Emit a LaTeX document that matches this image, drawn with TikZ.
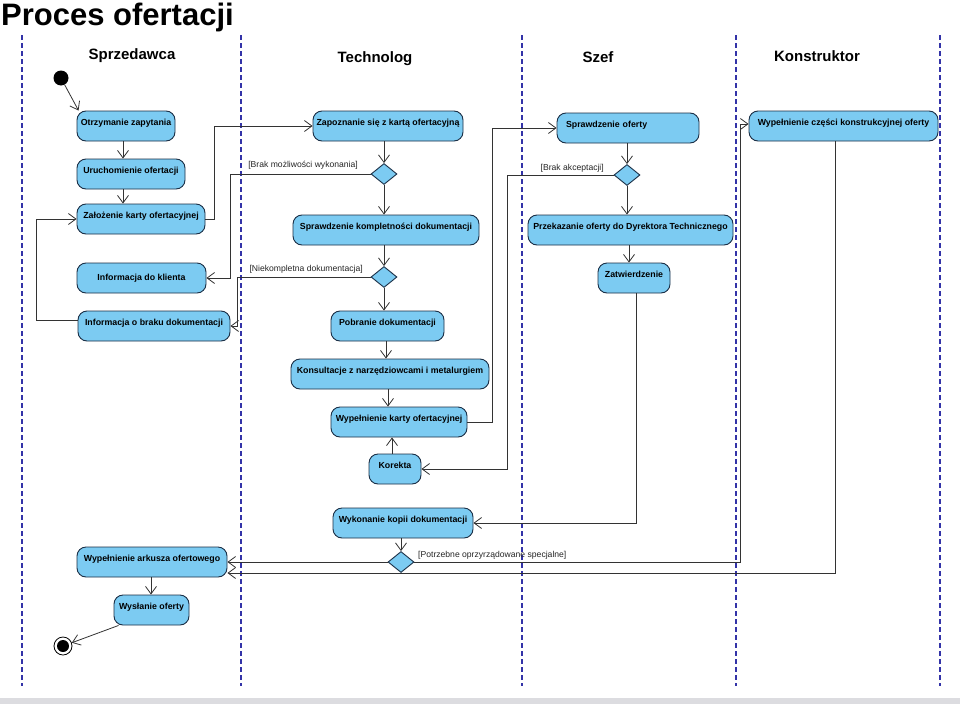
\documentclass[tikz,border=0pt]{standalone}
\usepackage{fontspec}
\setmainfont{Liberation Sans}
\usetikzlibrary{arrows.meta,shapes.geometric,calc}
\definecolor{actfill}{HTML}{7CCBF2}
\definecolor{actdraw}{HTML}{1A2E45}
\definecolor{linec}{HTML}{333333}
\definecolor{lanec}{HTML}{3333A8}
\definecolor{bandc}{HTML}{DCDCE0}
\begin{document}
\begin{tikzpicture}[x=1pt,y=-1pt,
  act/.style={draw=actdraw, fill=actfill, line width=0.9pt, rounded corners=9pt,
    minimum height=30pt, inner xsep=2pt, inner ysep=0pt,
    font=\bfseries\fontsize{8.8}{10}\selectfont, text height=6.3pt, text depth=8pt},
  dec/.style={draw=actdraw, fill=actfill, line width=0.9pt, diamond, inner sep=0pt,
    minimum width=26pt, minimum height=21pt},
  arr/.style={draw=linec, line width=0.8pt, -{Straight Barb[length=7.5pt,width=11pt]}},
  lbl/.style={font=\fontsize{8.6}{10}\selectfont, inner sep=0pt, text=black!85},
  lane/.style={draw=lanec, line width=1.3pt, dash pattern=on 5pt off 3pt},
  hdr/.style={font=\bfseries\fontsize{15}{17}\selectfont, inner sep=0pt, anchor=base}]
\useasboundingbox (0,0) rectangle (960,704);
\fill[white] (0,0) rectangle (960,704);
\fill[bandc] (0,698) rectangle (960,704);

% title
\node[anchor=base west, font=\bfseries\fontsize{31}{31}\selectfont, inner sep=0pt] (title) at (1,25) {Proces ofertacji};

% lanes
\foreach \lx in {22,241,522,736,940} {\draw[lane] (\lx,35) -- (\lx,686);}
\node[hdr] (h1) at (132,59) {Sprzedawca};
\node[hdr] (h2) at (375,62) {Technolog};
\node[hdr] (h3) at (598,62) {Szef};
\node[hdr] (h4) at (817,61) {Konstruktor};

% Sprzedawca
\node[circle, fill=black, minimum size=15pt, inner sep=0pt] (start) at (61,78) {};
\node[act, minimum width=98pt] (otrz) at (126,126) {Otrzymanie zapytania};
\node[act, minimum width=108pt] (urucho) at (131,174) {Uruchomienie ofertacji};
\node[act, minimum width=128pt] (zal) at (141,219) {Założenie karty ofertacyjnej};
\node[act, minimum width=129pt, text depth=2pt] (infkl) at (141.5,278) {Informacja do klienta};
\node[act, minimum width=152pt] (infbr) at (154,326) {Informacja o braku dokumentacji};
\node[act, minimum width=150pt] (wyparkusz) at (152,562) {Wypełnienie arkusza ofertowego};
\node[act, minimum width=75pt] (wysl) at (151.5,610) {Wysłanie oferty};
\node[circle, draw=black, line width=0.8pt, fill=white, minimum size=18pt, inner sep=0pt] (end) at (63,646) {};
\node[circle, fill=black, minimum size=12pt, inner sep=0pt] (endin) at (63,646) {};

% Technolog
\node[act, minimum width=150pt] (zap) at (388,126) {Zapoznanie się z kartą ofertacyjną};
\node[dec] (d1) at (384,174) {};
\node[act, minimum width=186pt] (spr) at (386,230) {Sprawdzenie kompletności dokumentacji};
\node[dec] (d2) at (384,277) {};
\node[act, minimum width=113pt] (pobr) at (387.5,326) {Pobranie dokumentacji};
\node[act, minimum width=198pt] (kons) at (390,374) {Konsultacje z narzędziowcami i metalurgiem};
\node[act, minimum width=136pt] (wypk) at (399,422) {Wypełnienie karty ofertacyjnej};
\node[act, minimum width=52pt] (kor) at (395,469) {Korekta};
\node[act, minimum width=140pt] (wyk) at (403,523) {Wykonanie kopii dokumentacji};
\node[dec] (d3) at (401,562) {};

% Szef
\node[act, text width=124pt, align=left, inner xsep=9pt] (sprof) at (628,128) {Sprawdzenie oferty};
\node[dec] (d4) at (627,175) {};
\node[act, minimum width=205pt] (przek) at (630.5,230) {Przekazanie oferty do Dyrektora Technicznego};
\node[act, minimum width=72pt] (zatw) at (634,278) {Zatwierdzenie};

% Konstruktor
\node[act, minimum width=189pt] (wypcz) at (843.5,126) {Wypełnienie części konstrukcyjnej oferty};

% helper x positions
\coordinate (cx123) at (123,0);
\coordinate (cx151) at (151,0);
\coordinate (cx386) at (386,0);
\coordinate (cx388) at (388,0);
\coordinate (cx392) at (392,0);
\coordinate (cx629) at (629,0);
\coordinate (cx636) at (636,0);
\coordinate (cx835) at (835,0);

% connectors
\draw[arr] (start) -- ([xshift=2pt]otrz.north west);
\draw[arr] (otrz.south -| cx123) -- (urucho.north -| cx123);
\draw[arr] (urucho.south -| cx123) -- (zal.north -| cx123);
\draw[arr] (zal.east) -- ++(9,0) |- (zap.west);
\draw[arr] (zap.south -| d1.north) -- (d1.north);
\draw[arr] (d1.west) -- ++(-140,0) |- (infkl.east);
\node[lbl, anchor=east] (l1) at (358,165) {[Brak możliwości wykonania]};
\draw[arr] (d1.south) -- (spr.north -| d1.south);
\draw[arr] (spr.south -| d2.north) -- (d2.north);
\draw[arr] (d2.west) -- ++(-133,0) |- (infbr.east);
\node[lbl, anchor=east] (l2) at (363,269) {[Niekompletna dokumentacja]};
\draw[arr] ([yshift=6pt]infbr.west) -- ++(-41,0) |- (zal.west);
\draw[arr] (d2.south) -- (pobr.north -| d2.south);
\draw[arr] (pobr.south -| cx386) -- (kons.north -| cx386);
\draw[arr] (kons.south -| cx388) -- (wypk.north -| cx388);
\draw[arr] (kor.north -| cx392) -- (wypk.south -| cx392);
\draw[arr] (wypk.east) -- ++(25,0) |- (sprof.west);
\draw[arr] (sprof.south -| d4.north) -- (d4.north);
\draw[arr] (d4.west) -- ++(-106,0) |- (kor.east);
\node[lbl, anchor=east] (l3) at (604,168) {[Brak akceptacji]};
\draw[arr] (d4.south) -- (przek.north -| d4.south);
\draw[arr] (przek.south -| cx629) -- (zatw.north -| cx629);
\draw[arr] (zatw.south -| cx636) |- (wyk.east);
\draw[arr] (wyk.south -| d3.north) -- (d3.north);
\draw[arr] (d3.west) -- (wyparkusz.east);
\draw[arr] (d3.east) -- ++(326,0) |- ([yshift=2pt]wypcz.west);
\node[lbl, anchor=west] (l4) at (418,555) {[Potrzebne oprzyrządowane specjalne]};
\draw[arr] (wypcz.south -| cx835) |- ([yshift=-11pt]wyparkusz.east);
\draw[arr] (wyparkusz.south -| cx151) -- (wysl.north -| cx151);
\draw[arr] ([xshift=5pt]wysl.south west) -- (end);
\end{tikzpicture}
\end{document}
